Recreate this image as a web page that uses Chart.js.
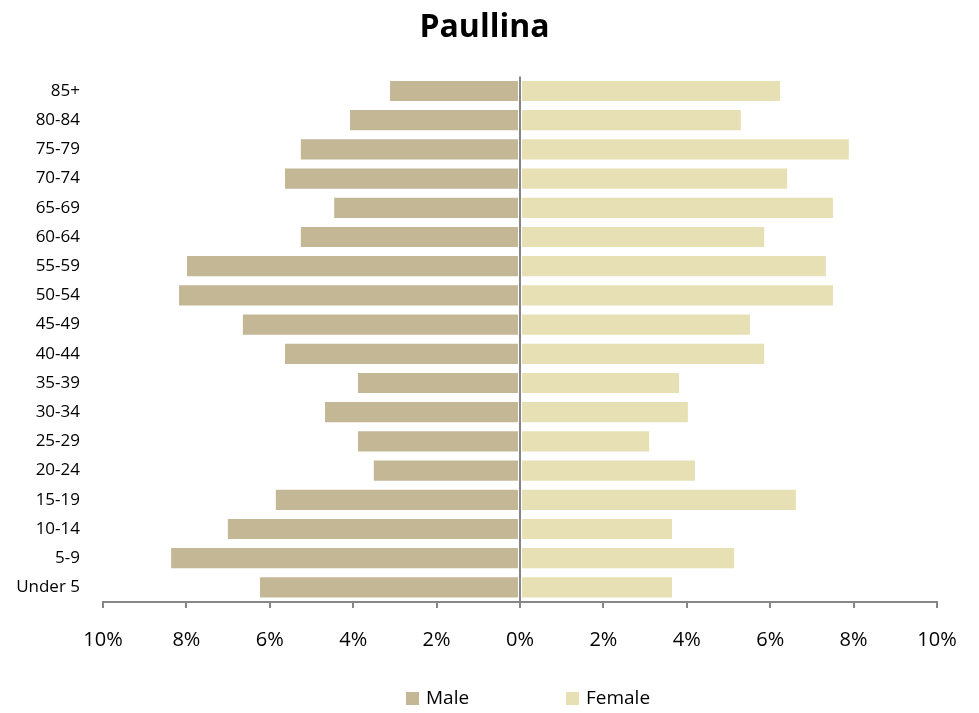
<!DOCTYPE html>
<html>
<head>
<meta charset="utf-8">
<script src="https://cdn.jsdelivr.net/npm/chart.js@4"></script>
<style>
  body { margin: 0; background: #fff; }
  #wrap { width: 979px; height: 713px; }
</style>
</head>
<body>
<div id="wrap"><canvas id="pyramid"></canvas></div>
<script>
const ageGroups = ['85+', '80-84', '75-79', '70-74', '65-69', '60-64', '55-59', '50-54', '45-49',
    '40-44', '35-39', '30-34', '25-29', '20-24', '15-19', '10-14', '5-9', 'Under 5'];
const malePct = [3.14, 4.10, 5.28, 5.66, 4.48, 5.28, 8.01, 8.20, 6.67,
    5.66, 3.91, 4.70, 3.91, 3.53, 5.88, 7.03, 8.39, 6.26];
const femalePct = [6.26, 5.32, 7.91, 6.43, 7.53, 5.88, 7.36, 7.53, 5.54,
    5.88, 3.84, 4.05, 3.12, 4.22, 6.64, 3.67, 5.16, 3.67];
const xTicks = [-10, -8, -6, -4, -2, 0, 2, 4, 6, 8, 10];

const font = "'Open Sans', sans-serif";

// legend drawn by hand so the two items sit far apart like the original
const bottomLegend = {
    id: 'bottomLegend',
    afterLayout(chart) {
        // center the title on the whole canvas, not just the padded area
        if (chart.titleBlock) {
            chart.titleBlock.left = 0;
            chart.titleBlock.right = chart.width - 10;
        }
    },
    afterDraw(chart) {
        const c = chart.ctx;
        const zero = chart.scales.x.getPixelForValue(0);
        const y = chart.height - 14;
        const items = [
            { ds: chart.data.datasets[0], x: zero - 114 },
            { ds: chart.data.datasets[1], x: zero + 46 }
        ];
        c.save();
        c.font = '19px ' + font;
        c.textBaseline = 'middle';
        items.forEach(it => {
            c.fillStyle = it.ds.backgroundColor;
            c.fillRect(it.x, y - 7, 13, 13);
            c.fillStyle = '#000';
            c.fillText(it.ds.label, it.x + 20, y);
        });
        c.restore();
    }
};

const ctx = document.getElementById('pyramid').getContext('2d');
new Chart(ctx, {
    type: 'bar',
    data: {
        labels: ageGroups,
        datasets: [{
            label: 'Male',
            data: malePct.map(v => -v),
            backgroundColor: '#c4b796',
            borderColor: '#ffffff',
            borderWidth: 1,
            borderSkipped: false
        }, {
            label: 'Female',
            data: femalePct,
            backgroundColor: '#e8e0b5',
            borderColor: '#ffffff',
            borderWidth: 1,
            borderSkipped: false
        }]
    },
    options: {
        indexAxis: 'y',
        responsive: true,
        maintainAspectRatio: false,
        animation: false,
        layout: { padding: { left: 0, right: 42, top: 0, bottom: 40 } },
        datasets: { bar: { categoryPercentage: 0.76, barPercentage: 1 } },
        scales: {
            x: {
                stacked: true,
                min: -10,
                max: 10,
                afterBuildTicks: axis => { axis.ticks = xTicks.map(v => ({ value: v })); },
                ticks: {
                    callback: v => Math.abs(v) + '%',
                    color: '#000',
                    font: { family: font, size: 20 },
                    padding: 20
                },
                grid: {
                    color: c => c.tick && c.tick.value === 0 ? '#868686' : 'rgba(0,0,0,0)',
                    lineWidth: 2,
                    tickColor: '#868686',
                    tickLength: 6,
                    drawTicks: true
                },
                border: { display: true, color: '#868686', width: 2 },
                afterFit: axis => { axis.height = 71; }
            },
            y: {
                stacked: true,
                ticks: {
                    color: '#000',
                    font: { family: font, size: 17 },
                    padding: 15
                },
                grid: { display: false },
                border: { display: false },
                afterFit: axis => { axis.width = 103; }
            }
        },
        plugins: {
            title: {
                display: true,
                text: 'Paullina',
                color: '#000',
                font: { family: font, size: 32, weight: 'bold' },
                padding: { top: 9, bottom: 29 }
            },
            legend: { display: false },
            tooltip: { enabled: false }
        }
    },
    plugins: [bottomLegend]
});
</script>
</body>
</html>
